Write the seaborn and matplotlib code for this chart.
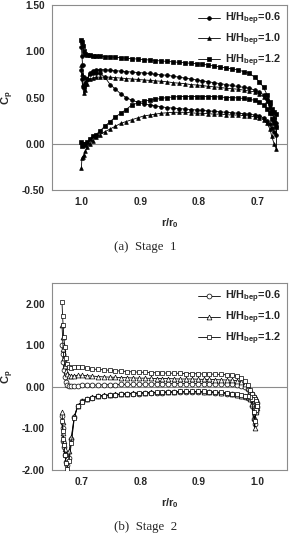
import numpy as np
import pandas as pd
import matplotlib
matplotlib.use("Agg")
import matplotlib.pyplot as plt
import seaborn as sns

# --- Stage 1 : r/r0 stations (leading edge at 1.0, trailing edge near 0.67) ---
r_stage1 = [1.000, 0.999, 0.998, 0.996, 0.993, 0.990, 0.986, 0.981, 0.975, 0.968,
            0.960, 0.951, 0.942, 0.933, 0.924, 0.914, 0.904, 0.894, 0.884, 0.874,
            0.864, 0.854, 0.844, 0.834, 0.824, 0.814, 0.804, 0.794, 0.784, 0.774,
            0.764, 0.754, 0.744, 0.734, 0.724, 0.714, 0.705, 0.697, 0.690, 0.684,
            0.679, 0.676, 0.672, 0.668]

s1_06_upper = [1.05, 0.95, 0.85, 0.72, 0.66, 0.70, 0.76, 0.79, 0.80, 0.80,
               0.80, 0.795, 0.79, 0.785, 0.78, 0.775, 0.77, 0.765, 0.76, 0.75,
               0.745, 0.74, 0.73, 0.72, 0.71, 0.70, 0.69, 0.68, 0.67, 0.66,
               0.65, 0.64, 0.63, 0.62, 0.61, 0.60, 0.58, 0.56, 0.53, 0.48,
               0.42, 0.35, 0.28, 0.22]
s1_06_lower = [0.80, 0.70, 0.62, 0.60, 0.64, 0.70, 0.75, 0.77, 0.77, 0.76,
               0.72, 0.64, 0.59, 0.54, 0.50, 0.47, 0.45, 0.43, 0.42, 0.41,
               0.40, 0.39, 0.385, 0.38, 0.375, 0.37, 0.365, 0.36, 0.355, 0.35,
               0.345, 0.34, 0.335, 0.33, 0.325, 0.32, 0.31, 0.30, 0.28, 0.25,
               0.21, 0.17, 0.13, 0.10]

s1_10_upper = [0.85, 0.75, 0.62, 0.55, 0.58, 0.65, 0.70, 0.71, 0.72, 0.72,
               0.72, 0.72, 0.715, 0.71, 0.705, 0.70, 0.695, 0.69, 0.685, 0.68,
               0.675, 0.67, 0.66, 0.655, 0.65, 0.64, 0.635, 0.63, 0.62, 0.615,
               0.61, 0.60, 0.595, 0.59, 0.58, 0.57, 0.56, 0.54, 0.51, 0.46,
               0.40, 0.33, 0.26, 0.20]
s1_10_lower = [-0.26, -0.15, -0.14, -0.12, -0.08, -0.04, 0.00, 0.03, 0.07, 0.10,
               0.13, 0.16, 0.19, 0.22, 0.24, 0.26, 0.28, 0.30, 0.31, 0.32,
               0.33, 0.335, 0.34, 0.34, 0.34, 0.335, 0.33, 0.33, 0.325, 0.32,
               0.32, 0.315, 0.31, 0.31, 0.305, 0.30, 0.29, 0.28, 0.26, 0.22,
               0.16, 0.08, 0.00, -0.06]

s1_12_upper = [1.12, 1.10, 1.06, 1.00, 0.97, 0.96, 0.955, 0.95, 0.95, 0.945,
               0.94, 0.94, 0.935, 0.93, 0.925, 0.92, 0.915, 0.91, 0.905, 0.90,
               0.895, 0.89, 0.885, 0.88, 0.875, 0.87, 0.865, 0.86, 0.85, 0.84,
               0.83, 0.82, 0.81, 0.80, 0.78, 0.76, 0.72, 0.67, 0.61, 0.53,
               0.45, 0.38, 0.34, 0.32]
s1_12_lower = [0.02, -0.02, 0.00, -0.01, 0.00, 0.02, 0.05, 0.08, 0.10, 0.14,
               0.19, 0.24, 0.29, 0.33, 0.37, 0.42, 0.44, 0.46, 0.47, 0.48,
               0.49, 0.50, 0.505, 0.51, 0.51, 0.51, 0.51, 0.51, 0.51, 0.51,
               0.505, 0.50, 0.50, 0.495, 0.49, 0.48, 0.47, 0.45, 0.42, 0.38,
               0.33, 0.27, 0.22, 0.18]

# --- Stage 2 : r/r0 stations (leading edge near 0.667, trailing edge at 1.0) ---
r_stage2 = [0.667, 0.668, 0.669, 0.670, 0.672, 0.674, 0.676, 0.679, 0.683, 0.688,
            0.694, 0.701, 0.709, 0.718, 0.728, 0.738, 0.748, 0.758, 0.768, 0.778,
            0.788, 0.798, 0.808, 0.818, 0.828, 0.838, 0.848, 0.858, 0.868, 0.878,
            0.888, 0.898, 0.908, 0.918, 0.928, 0.938, 0.948, 0.957, 0.965, 0.972,
            0.978, 0.983, 0.987, 0.990, 0.993, 0.995, 0.997, 0.999]

s2_06_upper = [1.00, 0.80, 0.60, 0.40, 0.25, 0.12, 0.05, 0.02, 0.01, 0.02,
               0.03, 0.04, 0.04, 0.04, 0.045, 0.05, 0.05, 0.055, 0.06, 0.06,
               0.06, 0.065, 0.07, 0.07, 0.07, 0.075, 0.075, 0.08, 0.08, 0.08,
               0.08, 0.08, 0.08, 0.08, 0.075, 0.07, 0.065, 0.06, 0.05, 0.03,
               0.00, -0.05, -0.12, -0.18, -0.24, -0.29, -0.34, -0.38]
s2_06_lower = [-0.70, -1.00, -1.30, -1.45, -1.65, -1.80, -1.88, -1.70, -1.25, -0.72,
               -0.45, -0.35, -0.30, -0.26, -0.23, -0.21, -0.20, -0.19, -0.18, -0.17,
               -0.16, -0.16, -0.15, -0.15, -0.14, -0.14, -0.13, -0.13, -0.13, -0.12,
               -0.12, -0.12, -0.13, -0.13, -0.14, -0.15, -0.16, -0.18, -0.20, -0.22,
               -0.24, -0.26, -0.30, -0.45, -0.78, -0.90, -0.60, -0.48]

s2_10_upper = [1.50, 1.20, 0.90, 0.70, 0.50, 0.38, 0.30, 0.27, 0.26, 0.27,
               0.28, 0.28, 0.27, 0.26, 0.25, 0.24, 0.235, 0.23, 0.225, 0.22,
               0.215, 0.21, 0.21, 0.205, 0.20, 0.20, 0.20, 0.195, 0.19, 0.19,
               0.19, 0.185, 0.18, 0.18, 0.175, 0.17, 0.165, 0.16, 0.15, 0.12,
               0.06, -0.02, -0.10, -0.18, -0.24, -0.30, -0.35, -0.40]
s2_10_lower = [-0.60, -0.85, -1.10, -1.30, -1.50, -1.62, -1.70, -1.55, -1.20, -0.70,
               -0.45, -0.35, -0.29, -0.25, -0.22, -0.20, -0.19, -0.18, -0.17, -0.16,
               -0.15, -0.14, -0.14, -0.13, -0.13, -0.12, -0.12, -0.12, -0.11, -0.11,
               -0.11, -0.11, -0.12, -0.12, -0.13, -0.14, -0.15, -0.17, -0.19, -0.21,
               -0.23, -0.25, -0.28, -0.40, -0.75, -1.00, -0.60, -0.50]

s2_12_upper = [2.05, 1.70, 1.48, 1.20, 0.95, 0.70, 0.55, 0.48, 0.46, 0.47,
               0.48, 0.47, 0.45, 0.43, 0.42, 0.41, 0.40, 0.39, 0.38, 0.37,
               0.36, 0.355, 0.35, 0.345, 0.34, 0.335, 0.33, 0.33, 0.325, 0.32,
               0.32, 0.315, 0.31, 0.31, 0.305, 0.30, 0.29, 0.28, 0.26, 0.22,
               0.15, 0.05, -0.08, -0.18, -0.25, -0.30, -0.35, -0.40]
s2_12_lower = [-0.82, -1.05, -1.25, -1.41, -1.65, -1.82, -1.97, -1.78, -1.35, -0.75,
               -0.45, -0.36, -0.30, -0.26, -0.23, -0.21, -0.20, -0.19, -0.18, -0.17,
               -0.16, -0.15, -0.14, -0.14, -0.13, -0.13, -0.12, -0.12, -0.11, -0.11,
               -0.11, -0.11, -0.11, -0.12, -0.12, -0.13, -0.14, -0.16, -0.18, -0.20,
               -0.22, -0.23, -0.25, -0.30, -0.60, -0.82, -0.55, -0.45]

labels = ["H/H$_{bep}$=0.6", "H/H$_{bep}$=1.0", "H/H$_{bep}$=1.2"]


def loop_frame(r, curves):
    # each blade profile is drawn as a closed loop: upper side then lower side back
    rows = []
    for lab, (up, lo) in zip(labels, curves):
        xs = list(r) + list(r)[::-1]
        ys = list(up) + list(lo)[::-1]
        for x, y in zip(xs, ys):
            rows.append({"r": x, "cp": y, "series": lab})
    return pd.DataFrame(rows)


df1 = loop_frame(r_stage1, [(s1_06_upper, s1_06_lower),
                            (s1_10_upper, s1_10_lower),
                            (s1_12_upper, s1_12_lower)])
df2 = loop_frame(r_stage2, [(s2_06_upper, s2_06_lower),
                            (s2_10_upper, s2_10_lower),
                            (s2_12_upper, s2_12_lower)])

sns.set_style("white")
plt.rcParams["font.family"] = ["Liberation Sans", "DejaVu Sans"]
plt.rcParams["font.weight"] = "bold"
plt.rcParams["mathtext.fontset"] = "custom"
plt.rcParams["mathtext.rm"] = "Liberation Sans:bold"
plt.rcParams["mathtext.it"] = "Liberation Sans:bold"
plt.rcParams["mathtext.bf"] = "Liberation Sans:bold"

fig = plt.figure(figsize=(2.91, 5.33), dpi=100)
H = 533.0
W = 291.0
ax1 = fig.add_axes([52 / W, 1 - 190 / H, 235 / W, 185 / H])
ax2 = fig.add_axes([52 / W, 1 - 470 / H, 235 / W, 187 / H])

grey = "#8c8c8c"


def draw(ax, df, filled):
    face = "black" if filled else "white"
    ax.axhline(0, color=grey, lw=0.8, zorder=1)
    sns.lineplot(data=df, x="r", y="cp", hue="series", style="series",
                 markers=["o", "^", "s"], dashes=False,
                 palette=["black", "black", "black"],
                 estimator=None, sort=False, legend=False, ax=ax,
                 linewidth=0.6, markersize=2.7 if filled else 3.5,
                 markeredgecolor="black", markerfacecolor=face,
                 markeredgewidth=0.5, zorder=3)
    for sp in ax.spines.values():
        sp.set_color(grey)
        sp.set_linewidth(0.8)
    ax.tick_params(axis="both", labelsize=7.3, length=2, width=0.6,
                   color=grey, pad=3)
    for t in ax.get_xticklabels() + ax.get_yticklabels():
        t.set_fontweight("bold")
    lines = [l for l in ax.get_lines()][1:4]
    ax.legend(lines, labels, loc="upper right", frameon=False,
              handlelength=2.0, handletextpad=0.5,
              labelspacing=0.4, borderaxespad=0.15, numpoints=1,
              prop={"weight": "bold", "size": 7.8})
    ax.set_ylabel("C$_{p}$", fontsize=8, fontweight="bold", va="center")
    ax.yaxis.set_label_coords(-0.187, 0.5)
    ax.set_xlabel("r/r$_{0}$", fontsize=8, fontweight="bold", va="center")


draw(ax1, df1, True)
ax1.set_xlim(1.05, 0.65)
ax1.set_ylim(-0.5, 1.5)
ax1.set_xticks([1.0, 0.9, 0.8, 0.7])
ax1.set_xticklabels(["1.0", "0.9", "0.8", "0.7"])
ax1.set_yticks([-0.5, 0.0, 0.5, 1.0, 1.5])
ax1.set_yticklabels(["-0.50", "0.00", "0.50", "1.00", "1.50"])
ax1.xaxis.set_label_coords(0.5, -0.178)

draw(ax2, df2, False)
ax2.set_xlim(0.65, 1.05)
ax2.set_ylim(-2.0, 2.5)
ax2.set_xticks([0.7, 0.8, 0.9, 1.0])
ax2.set_xticklabels(["0.7", "0.8", "0.9", "1.0"])
ax2.set_yticks([-2.0, -1.0, 0.0, 1.0, 2.0])
ax2.set_yticklabels(["-2.00", "-1.00", "0.00", "1.00", "2.00"])
ax2.xaxis.set_label_coords(0.5, -0.176)

fig.text(0.5, 1 - 247 / H, "(a)  Stage  1", ha="center", va="center",
         family="Liberation Serif", fontsize=9.3, fontweight="normal")
fig.text(0.5, 1 - 527 / H, "(b)  Stage  2", ha="center", va="center",
         family="Liberation Serif", fontsize=9.3, fontweight="normal")

fig.savefig("out.png", dpi=100, facecolor="white")
